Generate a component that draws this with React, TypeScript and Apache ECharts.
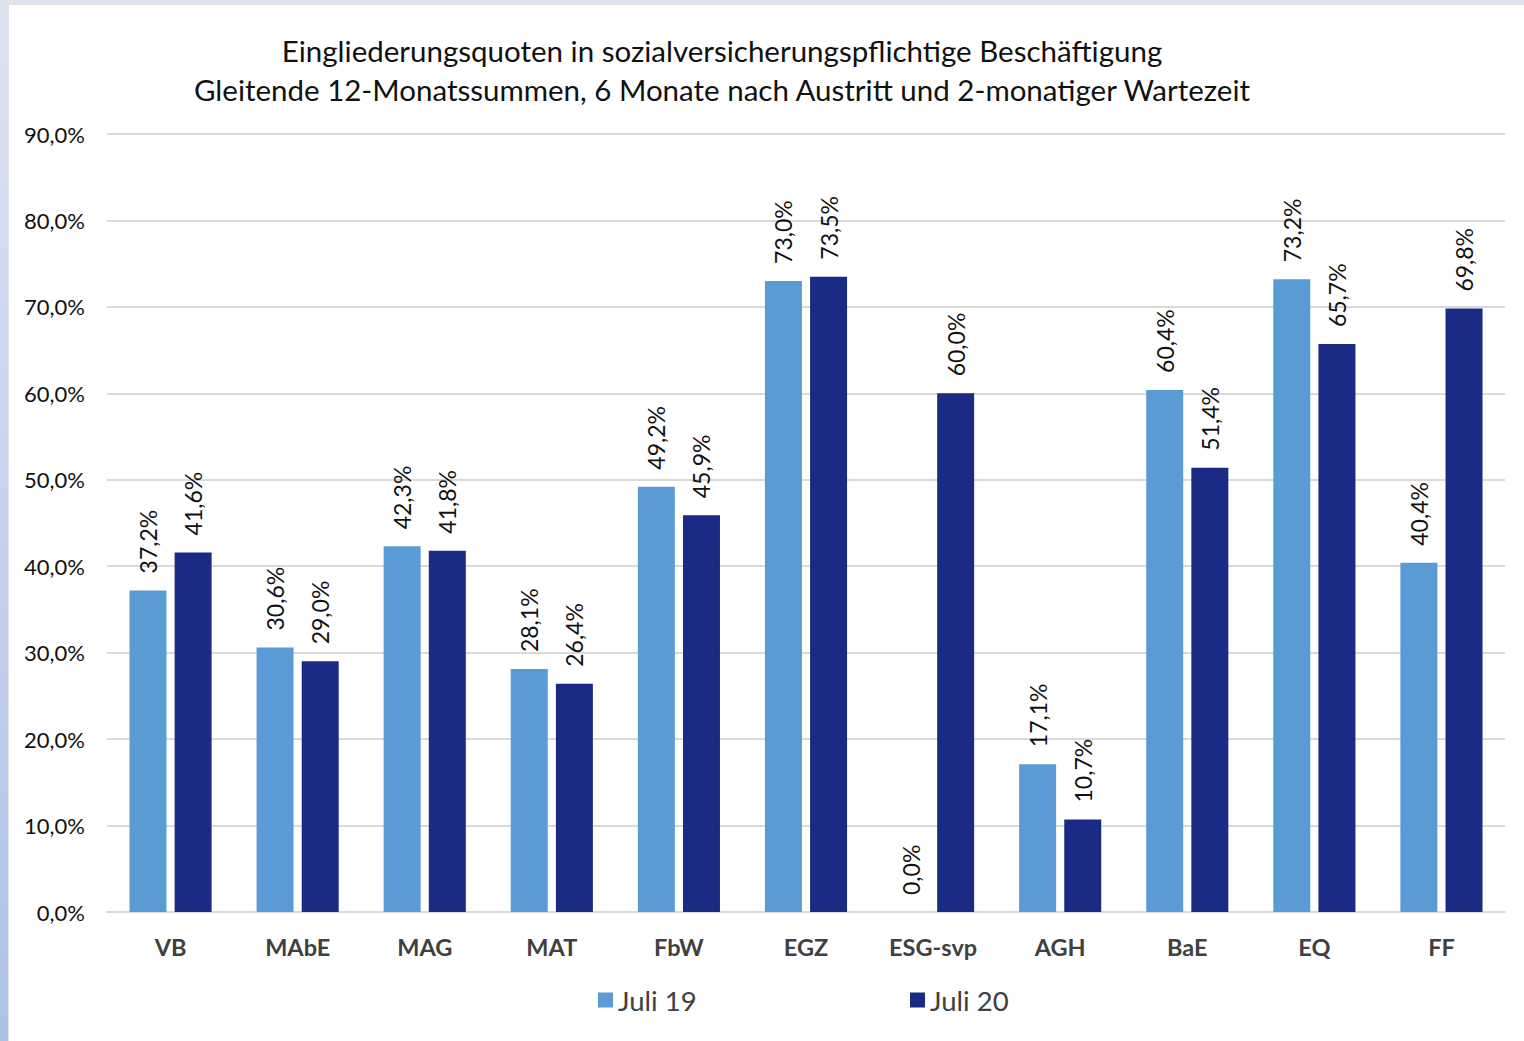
import React, { useEffect, useRef } from "react";
import * as echarts from "echarts";

const categories = ["VB", "MAbE", "MAG", "MAT", "FbW", "EGZ", "ESG-svp", "AGH", "BaE", "EQ", "FF"];
const juli19 = [37.2, 30.6, 42.3, 28.1, 49.2, 73.0, 0.0, 17.1, 60.4, 73.2, 40.4];
const juli20 = [41.6, 29.0, 41.8, 26.4, 45.9, 73.5, 60.0, 10.7, 51.4, 65.7, 69.8];
const seriesNames = ["Juli 19", "Juli 20"];
const titleLines = [
  "Eingliederungsquoten in sozialversicherungspflichtige Beschäftigung",
  "Gleitende 12-Monatssummen, 6 Monate nach Austritt und 2-monatiger Wartezeit",
];

const FONT = "Lato, 'Open Sans', sans-serif";
const fmt = (v: number) => v.toFixed(1).replace(".", ",") + "%";

export default function App() {
  const ref = useRef<HTMLDivElement>(null);
  useEffect(() => {
    if (!ref.current) return;
    const chart = echarts.init(ref.current, null, { renderer: "svg" });
    const label = {
      show: true,
      position: "top",
      rotate: 90,
      align: "left",
      verticalAlign: "middle",
      distance: 17,
      fontFamily: FONT,
      fontSize: 23,
      color: "#111",
      formatter: (p: any) => fmt(p.value),
    };
    const legendText = { fontFamily: FONT, fontSize: 27.5, color: "#404040" };
    chart.setOption({
      animation: false,
      backgroundColor: "#fff",
      textStyle: { fontFamily: FONT },
      graphic: [
        {
          type: "rect",
          shape: { x: 0, y: 0, width: 8, height: 1041 },
          style: {
            fill: new echarts.graphic.LinearGradient(0, 0, 0, 1, [
              { offset: 0, color: "#DCE4F2" },
              { offset: 1, color: "#AEC2E8" },
            ]),
          },
          silent: true,
        },
        {
          type: "rect",
          shape: { x: 0, y: 0, width: 1524, height: 4 },
          style: { fill: "#DDE4EF" },
          silent: true,
        },
        {
          type: "line",
          shape: { x1: 8.5, y1: 4, x2: 8.5, y2: 1041 },
          style: { stroke: "#E0E0E0", lineWidth: 1 },
          silent: true,
        },
        {
          type: "line",
          shape: { x1: 8, y1: 4.5, x2: 1524, y2: 4.5 },
          style: { stroke: "#E0E0E0", lineWidth: 1 },
          silent: true,
        },
      ],
      title: {
        text: titleLines.join("\n"),
        left: 717,
        top: 26,
        textAlign: "center",
        textStyle: {
          fontFamily: FONT,
          fontSize: 29.5,
          fontWeight: "normal",
          color: "#111",
          lineHeight: 39,
        },
      },
      legend: [
        {
          data: [seriesNames[0]],
          left: 593,
          top: 981,
          itemWidth: 15,
          itemHeight: 15,
          itemGap: 8,
          icon: "rect",
          textStyle: legendText,
        },
        {
          data: [seriesNames[1]],
          left: 905,
          top: 981,
          itemWidth: 15,
          itemHeight: 15,
          itemGap: 8,
          icon: "rect",
          textStyle: legendText,
        },
      ],
      grid: { left: 107, right: 19, top: 134, bottom: 129, containLabel: false },
      xAxis: {
        type: "category",
        data: categories,
        axisLine: { show: true, lineStyle: { color: "#D9D9D9", width: 2 } },
        axisTick: { show: false },
        axisLabel: {
          fontFamily: FONT,
          fontSize: 23.5,
          fontWeight: "bold",
          color: "#404040",
          margin: 23,
        },
      },
      yAxis: {
        type: "value",
        min: 0,
        max: 90,
        interval: 10,
        axisLine: { show: false },
        axisTick: { show: false },
        splitLine: { lineStyle: { color: "#D9D9D9", width: 2 } },
        axisLabel: {
          fontFamily: FONT,
          fontSize: 22,
          color: "#111",
          margin: 22,
          formatter: (v: number) => fmt(v),
        },
      },
      series: [
        {
          name: seriesNames[0],
          type: "bar",
          data: juli19,
          barWidth: 37,
          barGap: "22%",
          itemStyle: { color: "#5B9BD5" },
          label,
        },
        {
          name: seriesNames[1],
          type: "bar",
          data: juli20,
          barWidth: 37,
          barGap: "22%",
          itemStyle: { color: "#1B2A83" },
          label,
        },
      ],
    });
    return () => chart.dispose();
  }, []);
  return (
    <div
      ref={ref}
      style={{ position: "absolute", left: 0, top: 0, width: 1524, height: 1041 }}
    />
  );
}
